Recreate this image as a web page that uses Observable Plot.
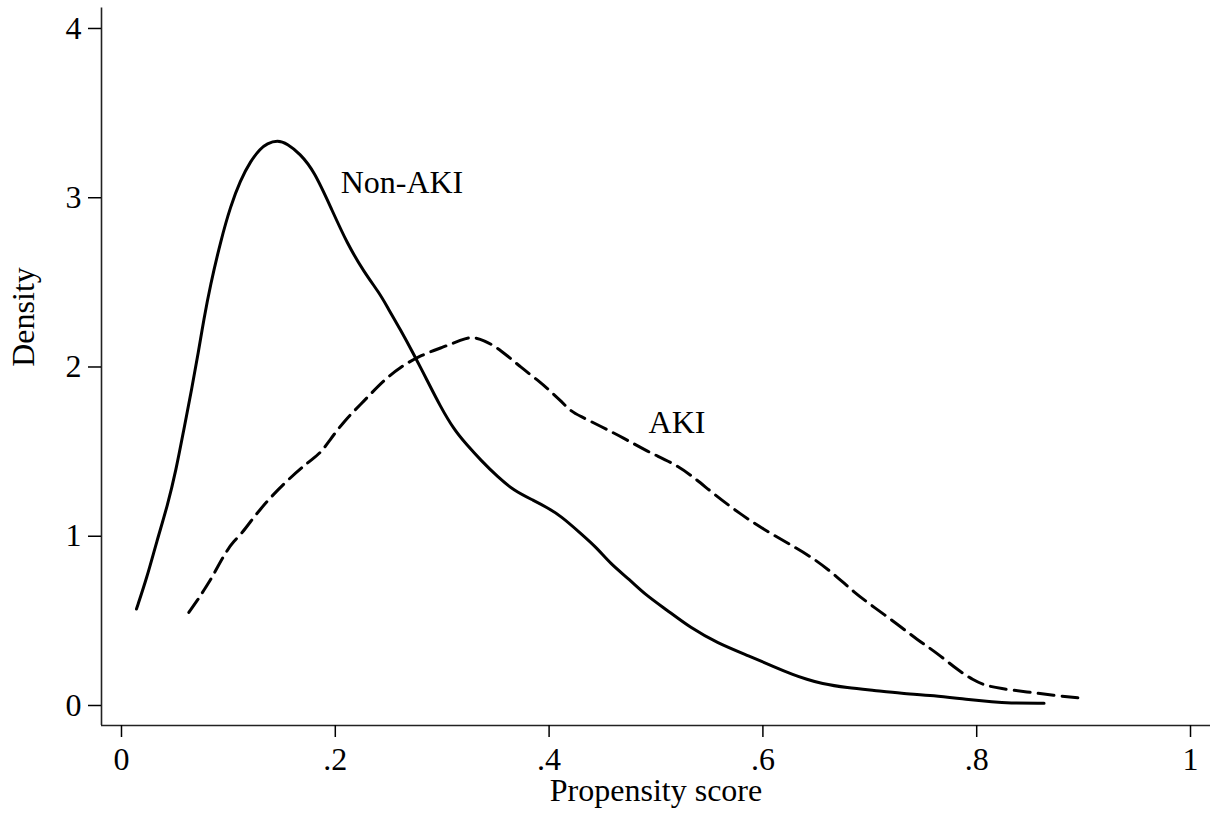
<!DOCTYPE html>
<html>
<head>
<meta charset="utf-8">
<script src="https://cdn.jsdelivr.net/npm/d3@7"></script>
<script src="https://cdn.jsdelivr.net/npm/@observablehq/plot@0.6"></script>
<style>
  html, body { margin: 0; padding: 0; background: #fff; }
</style>
</head>
<body>
<div id="chart"></div>
<script>
// Non-AKI kernel density (solid)
const nonAkiX = [0.014,0.024,0.033,0.043,0.051,0.058,0.066,0.072,0.077,0.083,0.093,0.102,0.111,0.121,0.130,0.136,0.146,0.155,0.167,0.180,0.196,0.211,0.227,0.242,0.249,0.261,0.273,0.286,0.298,0.311,0.323,0.336,0.352,0.367,0.386,0.398,0.411,0.429,0.445,0.457,0.476,0.489,0.511,0.532,0.557,0.588,0.610,0.629,0.641,0.654,0.679,0.704,0.729,0.760,0.791,0.816,0.829,0.863];
const nonAkiY = [0.57,0.76,0.97,1.18,1.39,1.62,1.88,2.09,2.28,2.48,2.75,2.95,3.10,3.22,3.29,3.32,3.34,3.32,3.26,3.16,2.94,2.73,2.56,2.43,2.35,2.22,2.08,1.92,1.77,1.63,1.54,1.45,1.35,1.27,1.21,1.17,1.12,1.02,0.93,0.84,0.74,0.66,0.56,0.46,0.37,0.29,0.23,0.18,0.155,0.13,0.104,0.089,0.072,0.059,0.035,0.020,0.014,0.014];

// AKI kernel density (dashed)
const akiX = [0.063,0.072,0.077,0.085,0.090,0.099,0.105,0.113,0.121,0.130,0.138,0.155,0.175,0.186,0.194,0.208,0.227,0.245,0.261,0.280,0.302,0.318,0.327,0.339,0.355,0.373,0.392,0.404,0.411,0.420,0.429,0.448,0.470,0.492,0.517,0.535,0.554,0.579,0.601,0.623,0.645,0.666,0.685,0.704,0.726,0.744,0.763,0.782,0.797,0.807,0.822,0.847,0.872,0.896];
const akiY = [0.55,0.63,0.68,0.76,0.82,0.92,0.97,1.02,1.09,1.16,1.22,1.33,1.44,1.49,1.56,1.68,1.80,1.92,2.00,2.07,2.12,2.16,2.18,2.16,2.10,2.00,1.91,1.84,1.80,1.74,1.71,1.65,1.58,1.50,1.43,1.35,1.25,1.13,1.04,0.96,0.88,0.78,0.67,0.58,0.48,0.39,0.31,0.21,0.15,0.12,0.10,0.08,0.06,0.045];

// Curve labels
const labelText = ["Non-AKI", "AKI"];
const labelX = [0.205, 0.493];
const labelY = [3.09, 1.67];

// Axes
const xTicks = [0, 0.2, 0.4, 0.6, 0.8, 1];
const xTickLabels = ["0", ".2", ".4", ".6", ".8", "1"];
const yTicks = [0, 1, 2, 3, 4];
const xTitle = "Propensity score";
const yTitle = "Density";

const nonAki = nonAkiX.map((x, i) => ({x, y: nonAkiY[i]}));
const aki = akiX.map((x, i) => ({x, y: akiY[i]}));
const labels = labelText.map((t, i) => ({t, x: labelX[i], y: labelY[i]}));

const xDomain = [-0.0187, 1.0187];
const yDomain = [-0.1182, 4.121];

const chart = Plot.plot({
  width: 1210,
  height: 817,
  marginLeft: 101,
  marginRight: 0,
  marginTop: 7.5,
  marginBottom: 92,
  style: {
    fontFamily: "'Liberation Serif', 'Times New Roman', Times, serif",
    fontSize: "32px",
    background: "#fff",
    color: "#000"
  },
  x: {domain: xDomain},
  y: {domain: yDomain},
  marks: [
    Plot.ruleX([xDomain[0]], {stroke: "#222", strokeWidth: 1.6}),
    Plot.ruleY([yDomain[0]], {stroke: "#222", strokeWidth: 1.6}),
    Plot.axisX({
      ticks: xTicks,
      tickSize: 12,
      tickPadding: 10,
      tickFormat: d => xTickLabels[xTicks.indexOf(d)],
      label: null,
      strokeWidth: 1.5
    }),
    Plot.axisY({
      ticks: yTicks,
      tickSize: 13,
      tickPadding: 7,
      tickFormat: d => String(d),
      label: null,
      strokeWidth: 1.5
    }),
    Plot.line(nonAki, {x: "x", y: "y", stroke: "#000", strokeWidth: 3, curve: "basis"}),
    Plot.line(aki, {x: "x", y: "y", stroke: "#000", strokeWidth: 3, strokeDasharray: "16,8", curve: "basis"}),
    Plot.text(labels, {x: "x", y: "y", text: "t", textAnchor: "start", fill: "#000"}),
    Plot.text([xTitle], {text: d => d, frameAnchor: "bottom", dy: 75, fill: "#000"}),
    Plot.text([yTitle], {text: d => d, frameAnchor: "left", rotate: -90, dx: -78, fill: "#000"})
  ]
});
document.getElementById("chart").append(chart);
</script>
</body>
</html>
